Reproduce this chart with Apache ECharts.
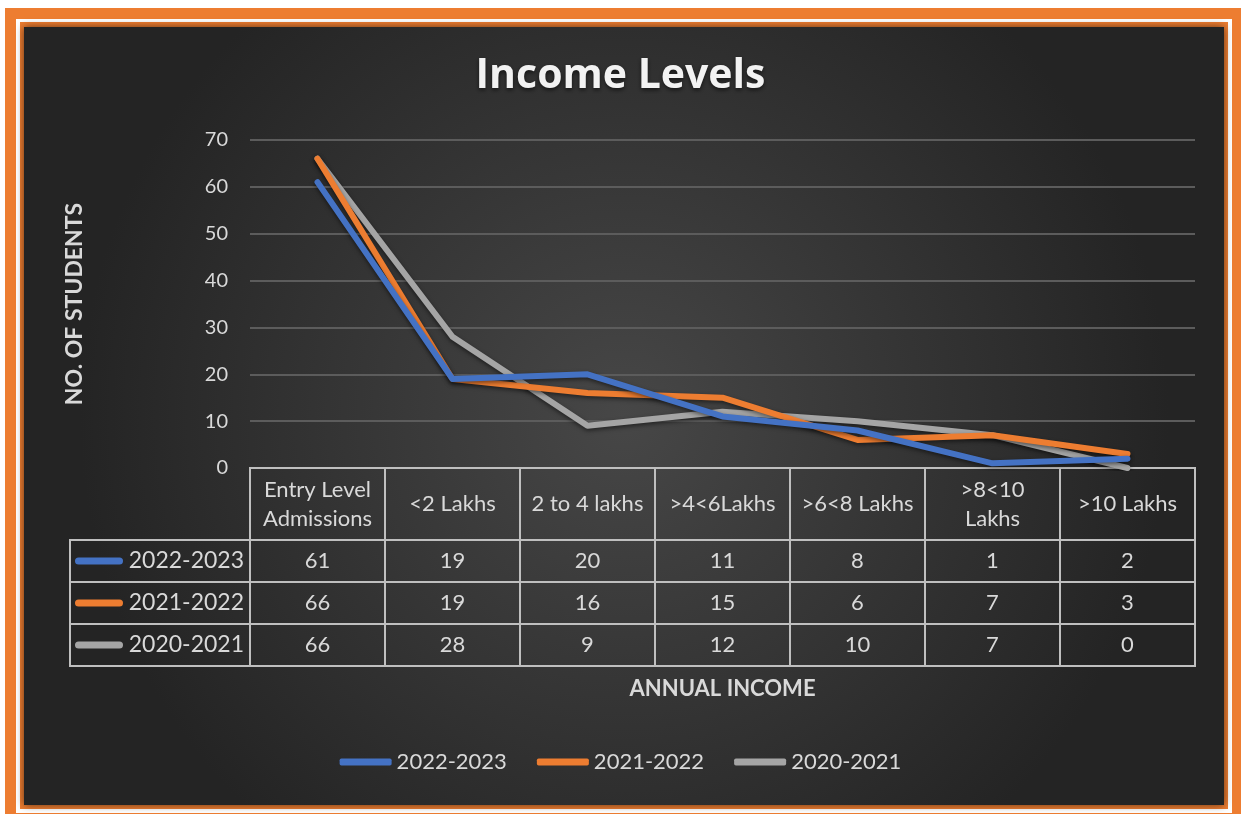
<!DOCTYPE html>
<html>
<head>
<meta charset="utf-8">
<script src="https://cdn.jsdelivr.net/npm/echarts@6/dist/echarts.min.js"></script>
<style>
  html, body { margin: 0; padding: 0; background: #fff; }
  #chart { width: 1241px; height: 814px; }
</style>
</head>
<body>
<div id="chart"></div>
<script>
// categories and the three years
var categories = ['Entry Level\nAdmissions', '<2 Lakhs', '2 to 4 lakhs', '>4<6Lakhs', '>6<8 Lakhs', '>8<10\nLakhs', '>10 Lakhs'];
var years = ['2022-2023', '2021-2022', '2020-2021'];
var data2022 = [61, 19, 20, 11, 8, 1, 2];
var data2021 = [66, 19, 16, 15, 6, 7, 3];
var data2020 = [66, 28, 9, 12, 10, 7, 0];
var colors = ['#4472C4', '#ED7D31', '#A5A5A5'];

var txt = '#d9d9d9';
var border = '#bfbfbf';
var font = 'Lato, "Open Sans", sans-serif';

// rows for the data table under the axis
var tableRows = categories.map(function (c, i) {
  return [i, data2022[i], data2021[i], data2020[i]];
});

function renderTable(params, api) {
  var i = api.value(0);
  var p = api.coord([i, 0]);
  var w = api.size([1, 0])[0];
  var x0 = p[0] - w / 2, y0 = p[1];
  var headH = 72, rowH = 42;
  var kids = [];
  kids.push({ type: 'rect', shape: { x: x0, y: y0, width: w, height: headH },
    style: { fill: 'none', stroke: border, lineWidth: 2 } });
  kids.push({ type: 'text', style: { text: categories[i], x: p[0], y: y0 + headH / 2,
    align: 'center', verticalAlign: 'middle', fill: txt, font: '22px ' + font, lineHeight: 29 } });
  for (var r = 0; r < 3; r++) {
    var y = y0 + headH + r * rowH;
    kids.push({ type: 'rect', shape: { x: x0, y: y, width: w, height: rowH },
      style: { fill: 'none', stroke: border, lineWidth: 2 } });
    kids.push({ type: 'text', style: { text: String(api.value(1 + r)), x: p[0], y: y + rowH / 2,
      align: 'center', verticalAlign: 'middle', fill: txt, font: '22px ' + font } });
    if (i === 0) {
      // legend key column on the left
      var lw = 180;
      kids.push({ type: 'rect', shape: { x: x0 - lw, y: y, width: lw, height: rowH },
        style: { fill: 'none', stroke: border, lineWidth: 2 } });
      kids.push({ type: 'rect', shape: { x: x0 - lw + 5, y: y + rowH / 2 - 3.5, width: 48, height: 7, r: 3.5 },
        style: { fill: colors[r] } });
      kids.push({ type: 'text', style: { text: years[r], x: x0 - 6, y: y + rowH / 2,
        align: 'right', verticalAlign: 'middle', fill: txt, font: '23px ' + font } });
    }
  }
  return { type: 'group', children: kids };
}

var lineStyle = { width: 6, cap: 'round', join: 'round', shadowBlur: 4, shadowColor: 'rgba(0,0,0,0.5)', shadowOffsetY: 2 };

var chart = echarts.init(document.getElementById('chart'));
chart.setOption({
  animation: false,
  backgroundColor: '#fff',
  graphic: [
    { type: 'rect', z: -10, shape: { x: 5, y: 8, width: 1260, height: 830 }, style: { fill: '#ED7D31' } },
    { type: 'rect', z: -10, shape: { x: 16, y: 19, width: 1216, height: 794 }, style: { fill: '#ffffff' } },
    { type: 'rect', z: -10, shape: { x: 20, y: 22, width: 1208, height: 787 }, style: { fill: '#ED7D31' } },
    { type: 'rect', z: -10, shape: { x: 24, y: 27, width: 1200, height: 778 },
      style: { fill: new echarts.graphic.RadialGradient(0.5, 0.5, 0.7, [
        { offset: 0, color: '#474747' }, { offset: 1, color: '#242424' }]),
        shadowBlur: 8, shadowColor: 'rgba(0,0,0,0.6)' } }
  ],
  title: {
    text: 'Income Levels',
    left: 'center', top: 51,
    textStyle: { color: '#f2f2f2', fontSize: 41, fontWeight: 'bold', fontFamily: '"Open Sans", Lato, sans-serif',
      textShadowColor: 'rgba(0,0,0,0.6)', textShadowBlur: 4, textShadowOffsetY: 2 }
  },
  legend: {
    data: years,
    bottom: 36, left: 'center',
    icon: 'roundRect', itemWidth: 52, itemHeight: 7, itemGap: 30,
    textStyle: { color: txt, fontSize: 22, fontFamily: font }
  },
  grid: { left: 250, right: 46, top: 140, bottom: 346 },
  xAxis: {
    type: 'category', data: categories, boundaryGap: true,
    axisLine: { show: false }, axisTick: { show: false }, axisLabel: { show: false },
    name: 'ANNUAL INCOME', nameLocation: 'middle', nameGap: 210,
    nameTextStyle: { color: txt, fontSize: 22, fontWeight: 'bold', fontFamily: font }
  },
  yAxis: {
    type: 'value', min: 0, max: 70, interval: 10,
    axisLine: { show: false }, axisTick: { show: false },
    axisLabel: { color: txt, fontSize: 20, fontFamily: font, margin: 22 },
    splitLine: { lineStyle: { color: '#5c5c5c', width: 2 } },
    name: 'NO. OF STUDENTS', nameLocation: 'middle', nameGap: 164, nameRotate: 90,
    nameTextStyle: { color: txt, fontSize: 23, fontWeight: 'bold', fontFamily: font }
  },
  series: [
    { name: years[0], type: 'line', data: data2022, showSymbol: false, color: colors[0], lineStyle: lineStyle, z: 4 },
    { name: years[1], type: 'line', data: data2021, showSymbol: false, color: colors[1], lineStyle: lineStyle, z: 3 },
    { name: years[2], type: 'line', data: data2020, showSymbol: false, color: colors[2], lineStyle: lineStyle, z: 2 },
    { name: 'table', type: 'custom', data: tableRows, renderItem: renderTable,
      encode: { x: 0, y: 1 }, silent: true, clip: false, z: 1 }
  ]
});
</script>
</body>
</html>
